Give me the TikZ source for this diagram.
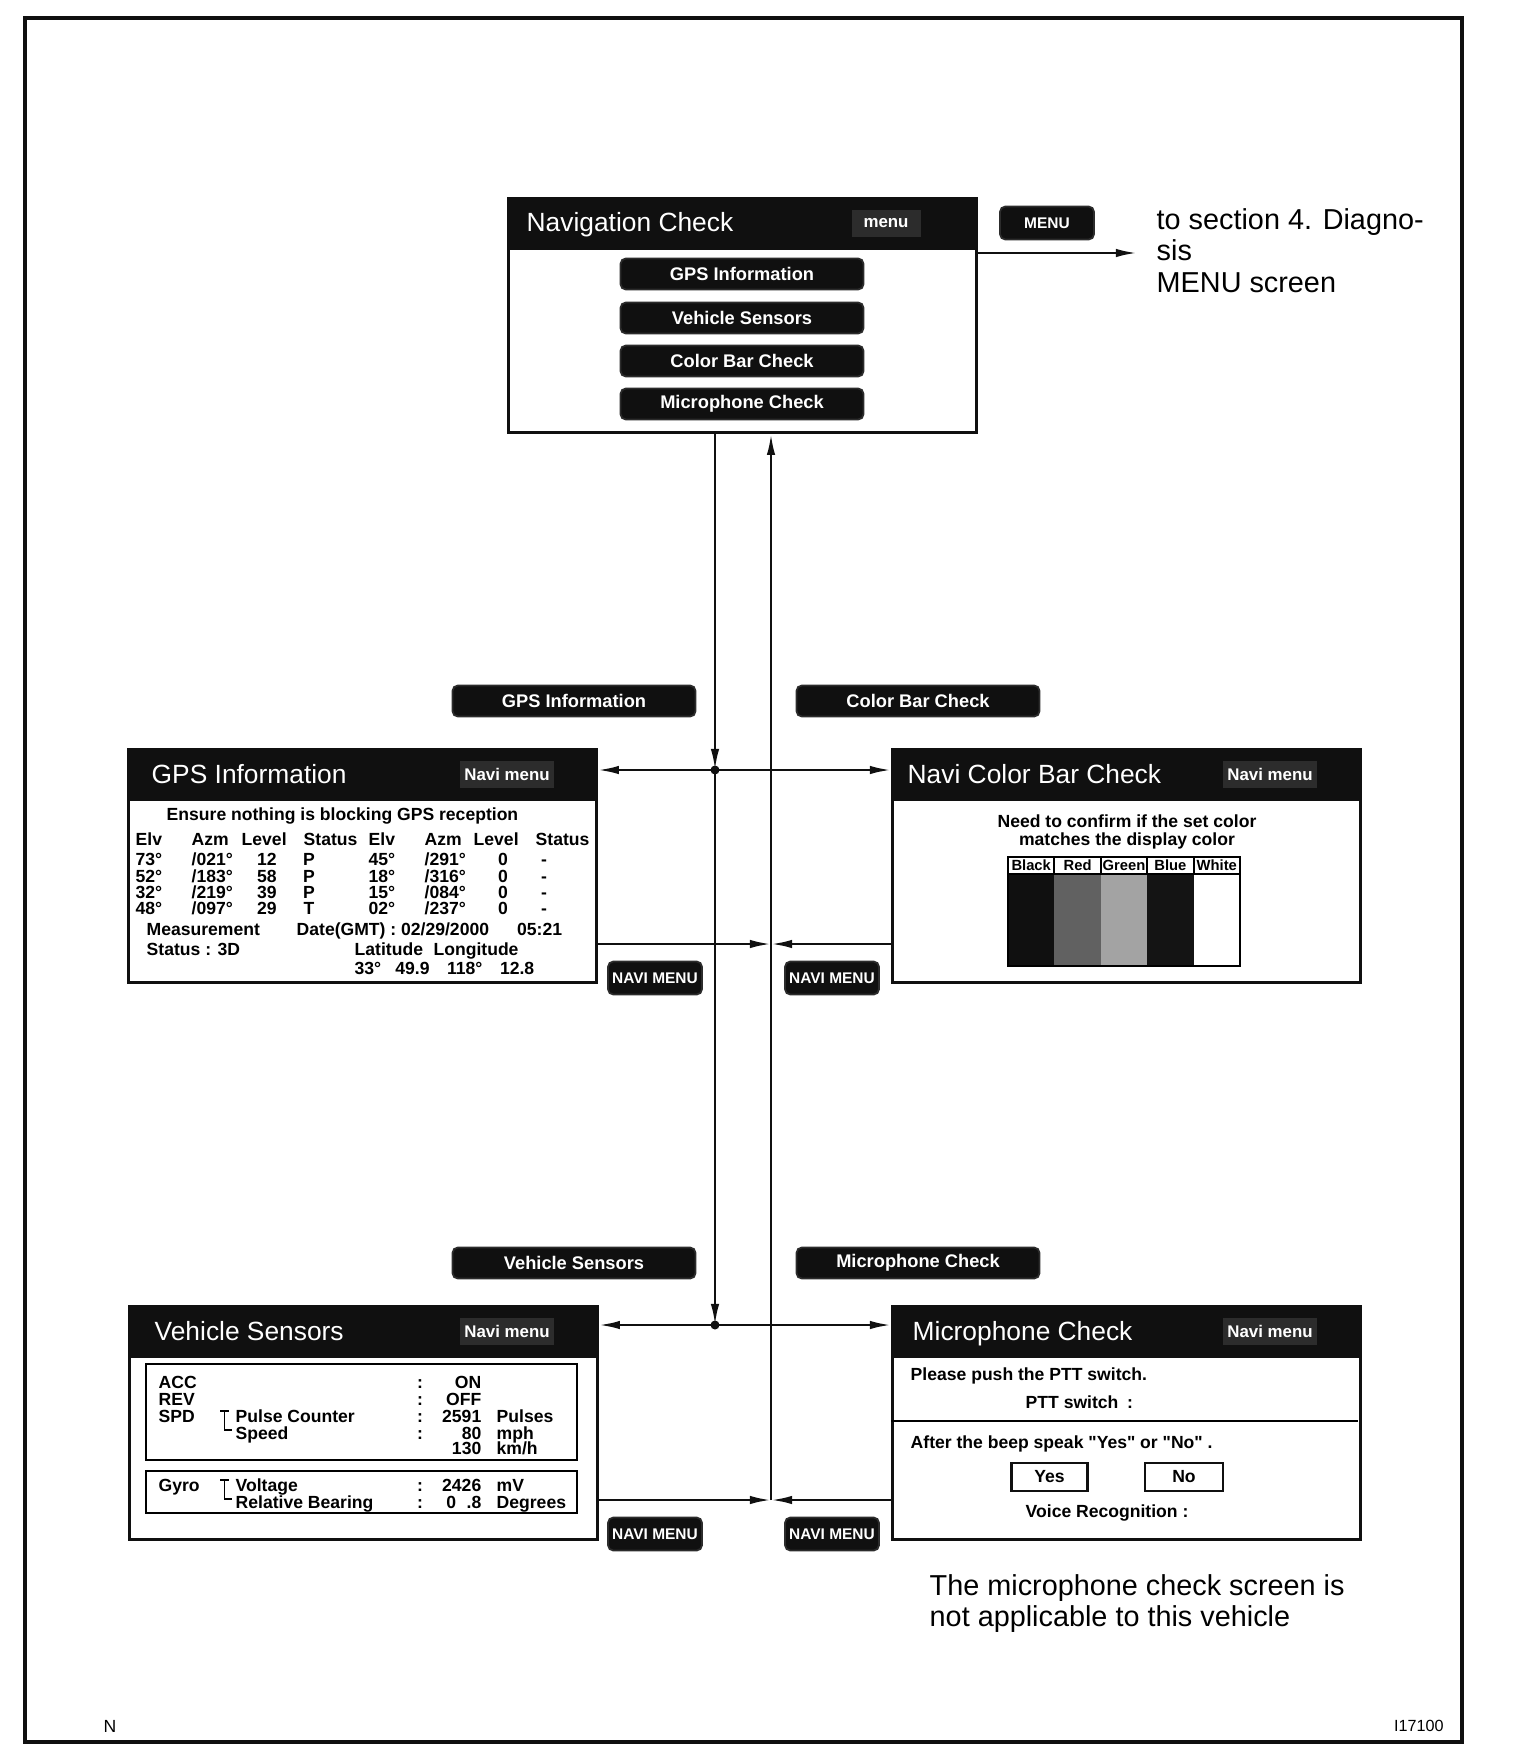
\documentclass[tikz,border=0pt]{standalone}
\usepackage{fontspec}
\setmainfont{Liberation Sans}
\usetikzlibrary{positioning, calc, arrows.meta}
\definecolor{Ink}{HTML}{101010}
\definecolor{Stipple}{HTML}{2C2C2C}
\definecolor{Paper}{HTML}{FFFFFF}
\tikzset{
    screen/.style={rectangle, draw=Ink, line width=0.8pt, fill=Paper, anchor=north west, inner sep=0pt, minimum width=46.8mm, minimum height=23.3mm},
    softkey/.style={rectangle, rounded corners=1.5pt, fill=Ink, draw=Stipple, line width=0.5pt, text=Paper, font=\bfseries\fontsize{5.2}{6}\selectfont, minimum width=24.3mm, minimum height=3.1mm, inner sep=0pt},
    navikey/.style={softkey, font=\bfseries\fontsize{4.4}{5}\selectfont, minimum width=9.4mm, minimum height=3.3mm},
    scrtitle/.style={text=Paper, font=\fontsize{7.5}{9}\selectfont, anchor=base west, yshift=-2.7pt, inner sep=0pt},
    navitag/.style={rectangle, fill=Stipple, text=Paper, font=\bfseries\fontsize{4.8}{5}\selectfont, inner sep=1.2pt, minimum height=2.7mm},
    body/.style={font=\bfseries\fontsize{5}{5.5}\selectfont, anchor=base west, yshift=-1.8pt, inner sep=0pt},
    answer/.style={draw=Ink, line width=0.7pt, font=\bfseries\fontsize{5}{5.5}\selectfont, inner sep=0pt, minimum height=2.8mm},
    cell/.style={font=\bfseries\fontsize{4.2}{4.5}\selectfont, inner sep=0pt},
    wire/.style={line width=0.7pt, draw=Ink},
    arrow/.style={wire, -{Latex[length=6pt, width=2.4pt]}},
    note/.style={font=\fontsize{8.2}{8.9}\selectfont, anchor=north west, inner sep=0pt, align=left},
}

\begin{document}
\begin{tikzpicture}[x=0.1mm, y=-0.1mm]
\useasboundingbox (0,0) rectangle (1520,1756);
% Cornice
\draw[line width=1pt, Ink] (25,18) rectangle (1462,1742);

% Menu principale
\node[screen, minimum height=23.4mm] (navcheck) at (507,197) {};
\fill[Ink] (navcheck.north west) rectangle ++(469,53);
\node[scrtitle] (navtitle) at (526,222) {Navigation Check};
\node[navitag, minimum width=6.9mm] (navmenu) at (886,223) {menu};
\foreach \y/\t/\n in {274/GPS Information/kgps, 318/Vehicle Sensors/kveh, 361/Color Bar Check/kcol, 404/Microphone Check/kmic}
    \node[softkey] (\n) at (742,\y) {\t};
\node[navikey] (menukey) at (1047,223) {MENU};
\coordinate (menuend) at (1137,253);
\draw[arrow] (navcheck.east |- menuend) -- (menuend);
\node[note] (menunote) at (1156,208) {to section 4. Diagno-\\sis\\MENU screen};

% Schermate
\node[screen] (gpsinfo) at (127,748) {};
\node[screen] (colorbar) at (891,748) {};
\node[screen] (sensors) at (128,1305) {};
\node[screen] (mic) at (891,1305) {};
\foreach \s in {gpsinfo, colorbar, sensors, mic}
    \fill[Ink] (\s.north west) rectangle ++(468,53);
\node[scrtitle] (gpstitle) at (151,774) {GPS Information};
\node[scrtitle] (coltitle) at (907,774) {Navi Color Bar Check};
\node[scrtitle] (vehtitle) at (154,1331) {Vehicle Sensors};
\node[scrtitle] (mictitle) at (912,1331) {Microphone Check};
\foreach \p/\n in {{507,774}/tgps, {1270,774}/tcol, {507,1331}/tveh, {1270,1331}/tmic}
    \node[navitag] (\n) at (\p) {Navi menu};

% Collegamenti
\coordinate (jtop) at (715,770);
\coordinate (jbot) at (715,1325);
\coordinate (rtop) at (771,944);
\coordinate (rbot) at (771,1500);
\draw[arrow] (navcheck.south -| jtop) -- (jtop);
\draw[arrow] (jtop) -- (gpsinfo.east |- jtop);
\draw[arrow] (jtop) -- (colorbar.west |- jtop);
\draw[arrow] (jtop) -- (jbot);
\draw[arrow] (jbot) -- (sensors.east |- jbot);
\draw[arrow] (jbot) -- (mic.west |- jbot);
\fill[Ink] (jtop) circle (0.45mm);
\fill[Ink] (jbot) circle (0.45mm);
\draw[arrow] (gpsinfo.east |- rtop) -- (rtop);
\draw[arrow] (colorbar.west |- rtop) -- (rtop);
\draw[arrow] (sensors.east |- rbot) -- (rbot);
\draw[arrow] (mic.west |- rbot) -- (rbot);
\draw[arrow] (rbot) -- (navcheck.south -| rbot);

% Tasti sulle frecce
\node[softkey] (lgps) at (574,701) {GPS Information};
\node[softkey] (lcol) at (918,701) {Color Bar Check};
\node[softkey] (lveh) at (574,1263) {Vehicle Sensors};
\node[softkey] (lmic) at (918,1263) {Microphone Check};
\foreach \p/\n in {{655,978}/ngps, {832,978}/ncol, {655,1534}/nveh, {832,1534}/nmic}
    \node[navikey] (\n) at (\p) {NAVI MENU};

% GPS Information
\node[body] (gpsmsg) at (166,814) {Ensure nothing is blocking GPS reception};
\foreach \x/\t in {135/Elv, 191/Azm, 241/Level, 303/Status, 368/Elv, 424/Azm, 473/Level, 535/Status}
    \node[body] (h\x) at (\x,839) {\t};
\foreach \y/\a/\b/\c/\d/\e/\f/\g in {859/73/021/12/P/45/291/0, 876/52/183/58/P/18/316/0, 892/32/219/39/P/15/084/0, 908/48/097/29/T/02/237/0} {
    \node[body] (ea\y) at (135,\y) {\a°};
    \node[body] (aa\y) at (191,\y) {/\b°};
    \node[body, anchor=base] (la\y) at (267,\y) {\c};
    \node[body, anchor=base] (sa\y) at (309,\y) {\d};
    \node[body] (eb\y) at (368,\y) {\e°};
    \node[body] (ab\y) at (424,\y) {/\f°};
    \node[body, anchor=base] (lb\y) at (503,\y) {\g};
    \node[body, anchor=base] (sb\y) at (544,\y) {-};
}
\node[body] (meas) at (146,929) {Measurement};
\node[body] (gmt) at (296,929) {Date(GMT) : 02/29/2000\hspace{1.6em}05:21};
\node[body] (stat) at (146,949) {Status : 3D};
\node[body] (latlon) at (354,949) {Latitude\hspace{0.6em}Longitude};
\node[body] (pos) at (354,968) {33°\hspace{0.8em}49.9\hspace{1em}118°\hspace{1em}12.8};

% Color bar
\node[align=center, inner sep=0pt, font=\bfseries\fontsize{5}{5.3}\selectfont] (colmsg) at (1127,832) {Need to confirm if the set color\\matches the display color};
\foreach \i/\c/\f in {0/Black/Ink, 1/Red/black!62, 2/Green/black!36, 3/Blue/black!92, 4/White/Paper} {
    \fill[\f] (1008+\i*46.4,874) rectangle ++(46.4,92);
    \draw[line width=0.6pt] (1008+\i*46.4,857) -- ++(0,17);
    \node[cell] (c\i) at (1031.2+\i*46.4,865.5) {\c};
}
\draw[line width=0.6pt] (1008,874) -- (1240,874);
\draw[line width=0.8pt] (1008,857) rectangle (1240,966);

% Vehicle sensors
\draw[line width=0.8pt] (146,1364) rectangle (577,1460);
\draw[line width=0.8pt] (146,1471) rectangle (577,1513);
\foreach \y/\t in {1382/ACC, 1399/REV, 1416/SPD, 1485/Gyro}
    \node[body] (s\y) at (158,\y) {\t};
\foreach \y/\t in {1416/Pulse Counter, 1433/Speed, 1485/Voltage, 1502/Relative Bearing}
    \node[body] (q\y) at (235,\y) {\t};
\foreach \y in {1382, 1399, 1416, 1433, 1485, 1502}
    \node[body, anchor=base] (k\y) at (420,\y) {:};
\foreach \y/\t in {1382/ON, 1399/OFF, 1416/2591, 1433/80, 1448/130, 1485/2426, 1502/0\hspace{0.6em}.8}
    \node[body, anchor=base east] (v\y) at (482,\y) {\t};
\foreach \y/\t in {1416/Pulses, 1433/mph, 1485/mV, 1502/Degrees}
    \node[body] (u\y) at (496,\y) {\t};
\node[body] (kmh) at (496,1448) {km/h};
\foreach \y in {1411, 1480}
    \draw[line width=0.5pt] (220,\y) -- (229,\y) (224.5,\y) -- (224.5,\y+19) -- (232,\y+19);

% Microphone
\node[body] (ptt) at (910,1374) {Please push the PTT switch.};
\node[body] (pttsw) at (1025,1402) {PTT switch\hspace{0.5em}:};
\draw[line width=0.7pt] (891,1421) -- (1358,1421);
\node[body] (beep) at (910,1442) {After the beep speak \textquotedbl Yes\textquotedbl{} or \textquotedbl No\textquotedbl{} .};
\node[answer, minimum width=7.6mm] (yes) at (1049.5,1477) {Yes};
\node[answer, minimum width=7.8mm] (no) at (1184,1477) {No};
\node[body] (voice) at (1025,1511) {Voice Recognition :};

% Note
\node[note] (micnote) at (929,1574) {The microphone check screen is\\not applicable to this vehicle};
\node[font=\fontsize{5}{6}\selectfont] (corner) at (110,1726) {N};
\node[font=\fontsize{4.6}{6}\selectfont, anchor=east] (figno) at (1456,1726) {I17100};
\end{tikzpicture}
\end{document}
